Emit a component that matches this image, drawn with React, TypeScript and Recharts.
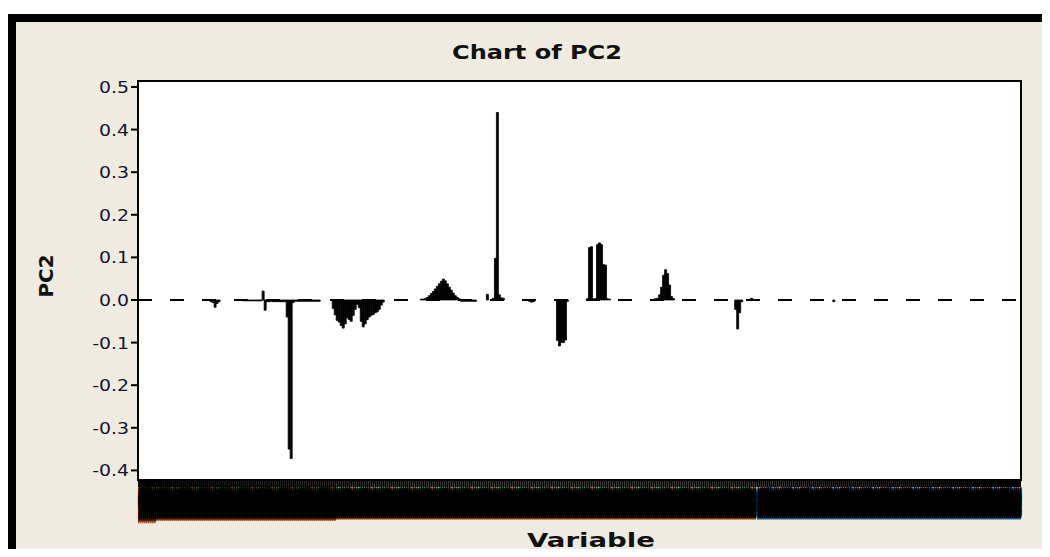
import { BarChart, Bar, XAxis, YAxis, ReferenceLine } from 'recharts';

const VARIABLE_COUNT = 441;
const variables = Array.from({ length: VARIABLE_COUNT }, (_, i) => `V${i + 1}`);

// PC2 loadings, [variable index, value]; every other variable is 0
const loadings: [number, number][] = [
  [36, -0.004], [37, -0.006], [38, -0.017], [39, -0.008], [40, -0.004],
  [52, -0.002], [53, -0.002], [54, -0.002], [55, -0.002], [56, -0.002],
  [57, -0.002], [58, -0.002], [59, -0.002], [60, -0.002], [61, -0.002],
  [62, 0.021], [63, -0.024], [64, -0.004], [65, -0.004], [66, -0.003],
  [67, -0.004], [68, -0.004], [69, -0.004], [70, -0.004], [71, -0.004],
  [72, -0.004], [73, -0.004],
  [74, -0.04], [75, -0.35], [76, -0.372], [77, -0.006],
  [78, -0.003], [79, -0.003], [80, -0.003], [81, -0.003], [82, -0.003],
  [83, -0.003], [84, -0.003], [85, -0.003], [86, -0.003], [87, -0.003],
  [88, -0.003], [89, -0.003], [90, -0.003],
  [97, -0.02], [98, -0.035], [99, -0.048], [100, -0.052], [101, -0.06],
  [102, -0.066], [103, -0.056], [104, -0.042], [105, -0.046], [106, -0.05],
  [107, -0.036], [108, -0.022], [109, -0.01],
  [110, -0.018], [111, -0.05], [112, -0.063], [113, -0.056], [114, -0.046],
  [115, -0.04], [116, -0.036], [117, -0.034], [118, -0.03], [119, -0.028],
  [120, -0.022], [121, -0.012], [122, -0.005],
  [141, 0.002], [142, 0.002], [143, 0.003], [144, 0.006], [145, 0.01],
  [146, 0.015], [147, 0.02], [148, 0.026], [149, 0.032], [150, 0.038],
  [151, 0.044], [152, 0.049], [153, 0.045], [154, 0.038], [155, 0.03],
  [156, 0.023], [157, 0.016], [158, 0.01], [159, 0.006], [160, 0.003],
  [161, -0.003], [162, -0.003], [163, -0.003], [164, -0.003], [165, -0.003],
  [166, -0.003], [167, -0.003], [168, -0.003],
  [174, 0.013], [177, 0.004], [178, 0.098], [179, 0.44], [180, 0.012],
  [181, 0.005], [182, 0.004],
  [195, -0.003], [196, -0.005], [197, -0.004],
  [209, -0.095], [210, -0.108], [211, -0.1], [212, -0.1], [213, -0.094], [214, -0.003],
  [224, 0.003], [225, 0.123], [226, 0.125], [227, 0.003], [228, 0.003],
  [229, 0.13], [230, 0.134], [231, 0.13], [232, 0.083], [233, 0.082],
  [234, 0.003], [235, 0.002],
  [258, 0.003], [259, 0.004], [260, 0.012], [261, 0.03], [262, 0.058],
  [263, 0.071], [264, 0.062], [265, 0.035], [266, 0.008], [267, 0.003],
  [298, -0.022], [299, -0.068], [300, -0.03], [301, -0.004], [306, 0.004],
  [347, -0.004],
];

const yTicks = [-0.4, -0.3, -0.2, -0.1, 0, 0.1, 0.2, 0.3, 0.4, 0.5];

const pc2 = variables.map(() => 0);
loadings.forEach(([i, v]) => { pc2[i] = v; });
const data = variables.map((variable, i) => ({ variable, pc2: pc2[i] }));

const FONT = '"DejaVu Sans", Verdana, sans-serif';

// the variable names are packed so tightly they read as a black band
function VarTick(props: any) {
  const { x, y, payload } = props;
  return (
    <text
      transform={`translate(${x + 0.8},${y + 1}) rotate(-90)`}
      textAnchor="end"
      fontFamily={FONT}
      fontSize={1.7}
      fontWeight="bold"
      fill="#000"
      stroke="#000"
      strokeWidth={1.5}
      strokeLinejoin="round"
      textLength={26}
      lengthAdjust="spacingAndGlyphs"
    >
      {payload.value}
    </text>
  );
}

function PcTick(props: any) {
  const { x, y, payload } = props;
  return (
    <text transform={`translate(${x},${y + 6}) scale(1.18,1)`} textAnchor="end" fontFamily={FONT} fontSize={16} fill="#141432">
      {payload.value.toFixed(1)}
    </text>
  );
}

export default function App() {
  return (
    <div style={{ position: 'relative', width: 1050, height: 557, margin: -8, overflow: 'hidden', background: '#fff' }}>
      <div style={{ position: 'absolute', left: 8, top: 14, width: 1100, height: 600, borderLeft: '8px solid #000', borderTop: '8px solid #000', background: '#EFEBE0' }} />
      <div style={{ position: 'absolute', left: 137, top: 80, width: 885, height: 401, background: '#fff', border: '2px solid #000', boxSizing: 'border-box' }} />
      <svg width={1050} height={557} style={{ position: 'absolute', left: 0, top: 0 }}>
        <text x={537} y={59} textAnchor="middle" fontFamily={FONT} fontSize={20} fontWeight="bold" fill="#111" textLength={170} lengthAdjust="spacingAndGlyphs">Chart of PC2</text>
        <text transform="translate(53,276) rotate(-90)" textAnchor="middle" fontFamily={FONT} fontSize={19} fontWeight="bold" fill="#111" textLength={43} lengthAdjust="spacingAndGlyphs">PC2</text>
        <text x={591} y={547} textAnchor="middle" fontFamily={FONT} fontSize={19} fontWeight="bold" fill="#111" textLength={128} lengthAdjust="spacingAndGlyphs">Variable</text>
      </svg>
      <div style={{ position: 'absolute', left: 0, top: 0 }}>
        <BarChart width={1050} height={557} data={data} margin={{ top: 81, right: 29, bottom: 37, left: 78 }} barCategoryGap={0} barGap={0}>
          <XAxis
            dataKey="variable"
            interval={0}
            height={40}
            tick={<VarTick />}
            tickSize={7}
            tickLine={{ stroke: '#000', strokeWidth: 2 }}
            axisLine={{ stroke: '#000', strokeWidth: 2 }}
          />
          <YAxis
            width={60}
            domain={[-0.4225, 0.514]}
            ticks={yTicks}
            tick={<PcTick />}
            tickSize={7}
            tickLine={{ stroke: '#000', strokeWidth: 2 }}
            axisLine={{ stroke: '#000', strokeWidth: 2 }}
          />
          <ReferenceLine y={0} stroke="#000" strokeWidth={2} strokeDasharray="14 18" />
          <Bar dataKey="pc2" fill="#000" stroke="#000" strokeWidth={0.8} isAnimationActive={false} />
        </BarChart>
      </div>
    </div>
  );
}
